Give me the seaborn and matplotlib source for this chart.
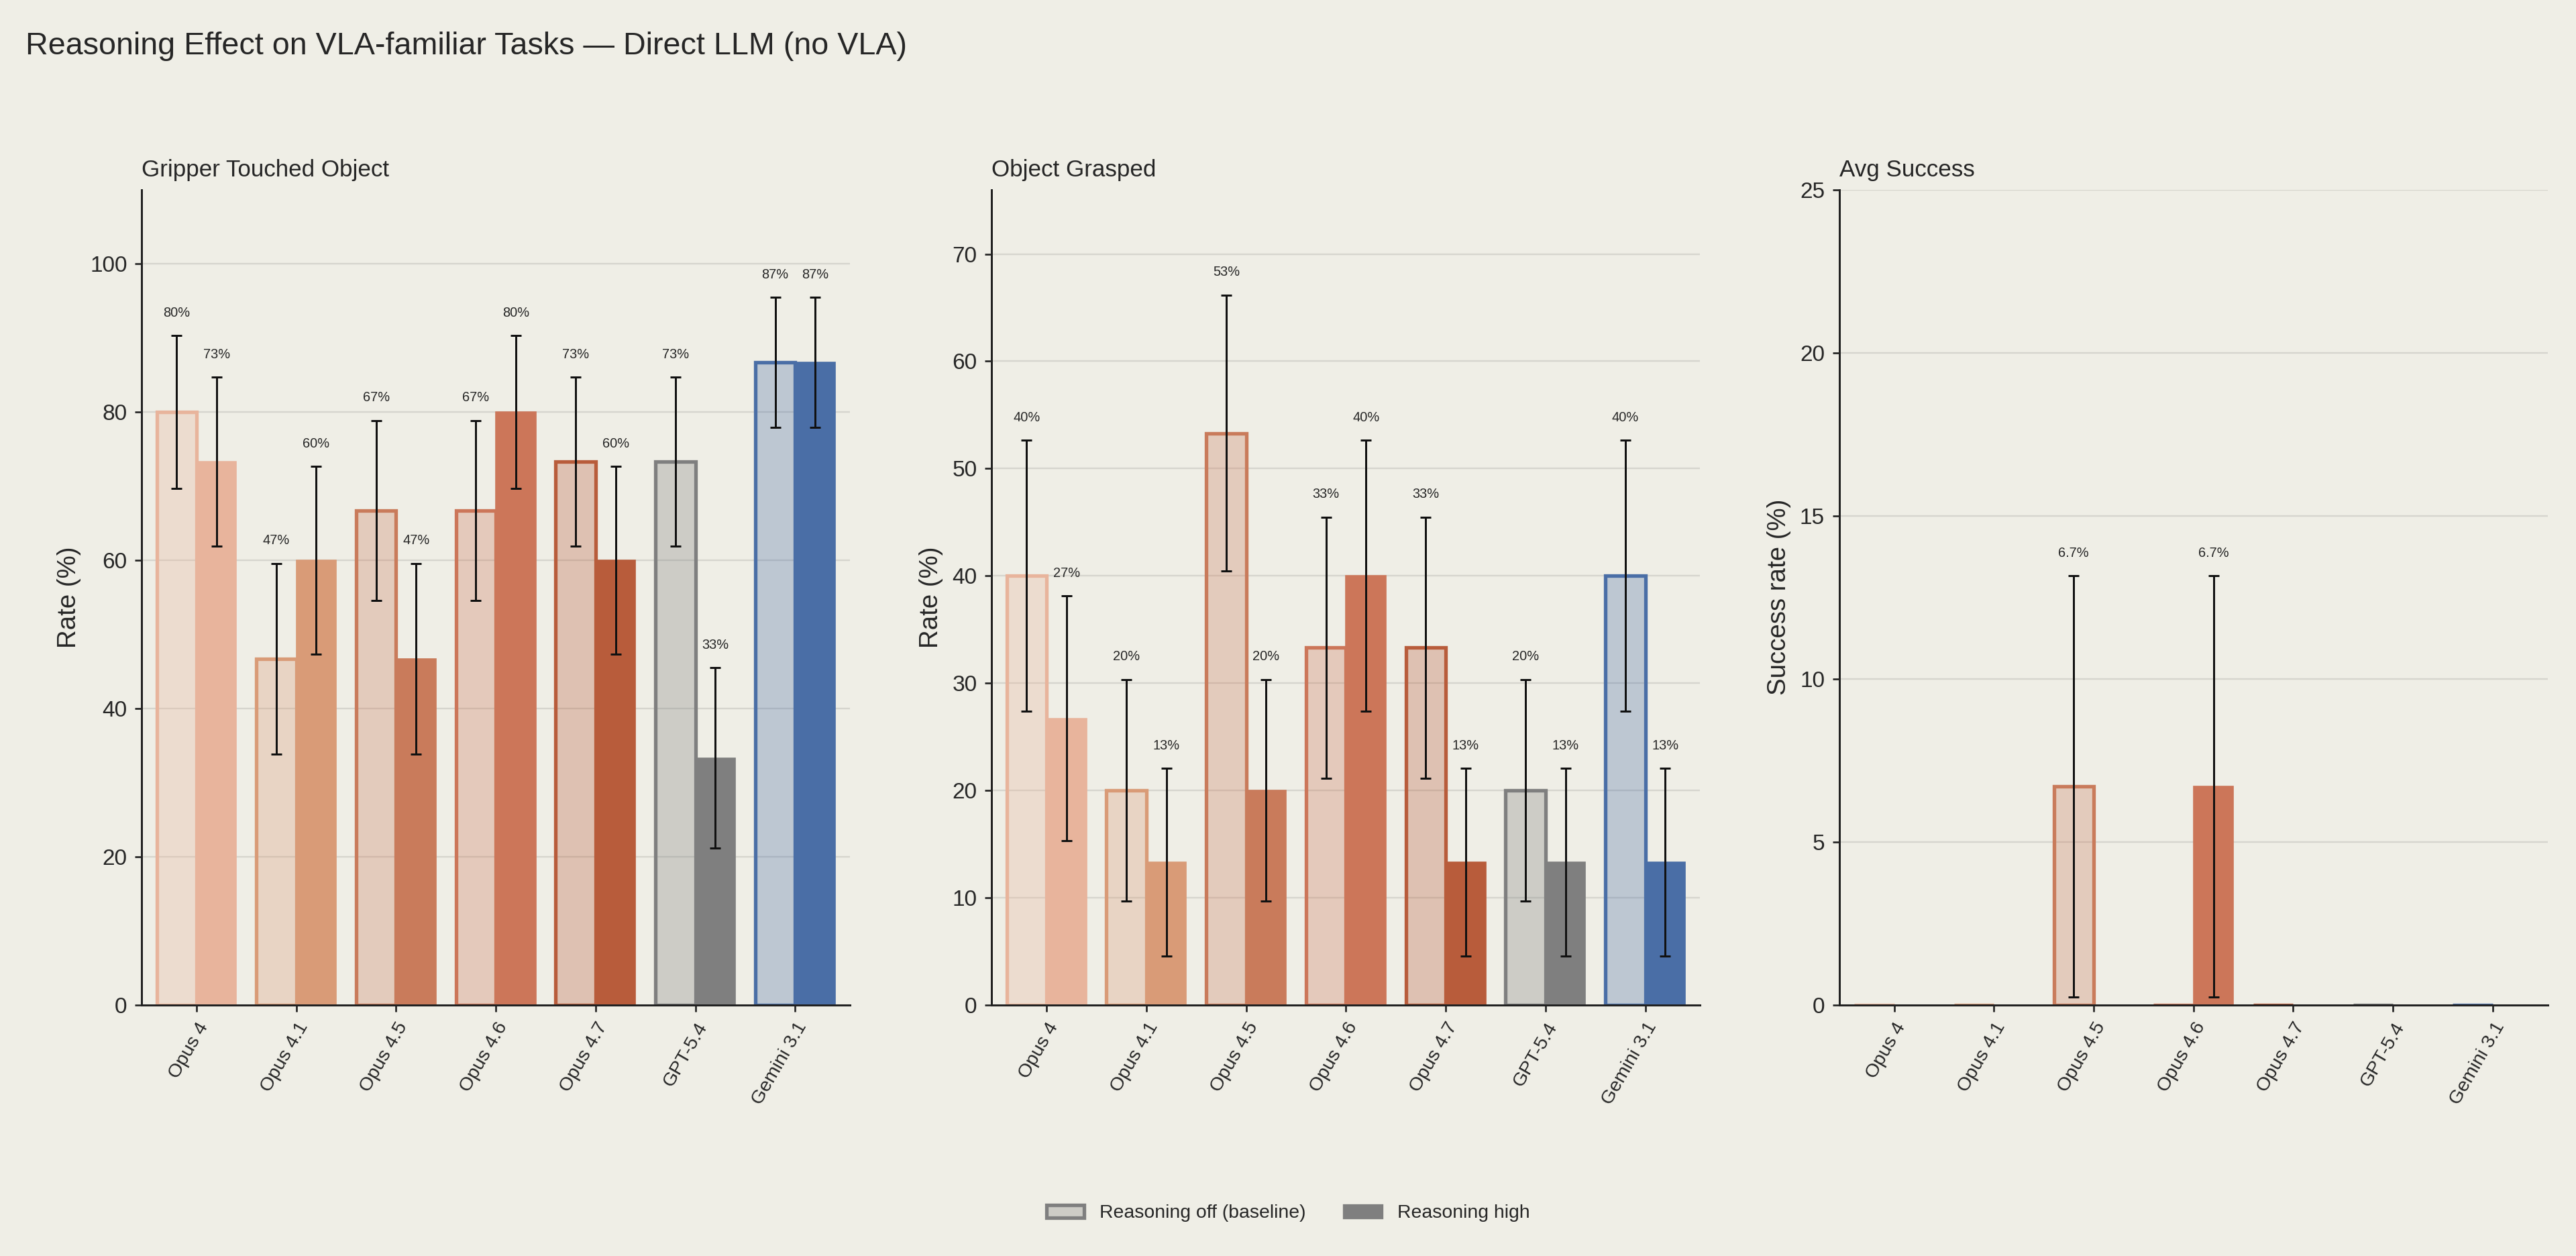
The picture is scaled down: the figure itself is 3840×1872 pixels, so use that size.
import matplotlib
matplotlib.use("Agg")
import matplotlib.pyplot as plt
import numpy as np
import pandas as pd
import seaborn as sns
from matplotlib.patches import Patch

models = ["Opus 4", "Opus 4.1", "Opus 4.5", "Opus 4.6", "Opus 4.7", "GPT-5.4", "Gemini 3.1"]
colors = ["#E8B49C", "#D99B77", "#C97B5B", "#CC7659", "#B85C3B", "#7F7F7F", "#4A6EA6"]
n_trials = 15

touched_off = [80.0, 46.7, 66.7, 66.7, 73.3, 73.3, 86.7]
touched_high = [73.3, 60.0, 46.7, 80.0, 60.0, 33.3, 86.7]
grasped_off = [40.0, 20.0, 53.3, 33.3, 33.3, 20.0, 40.0]
grasped_high = [26.7, 13.3, 20.0, 40.0, 13.3, 13.3, 13.3]
success_off = [0, 0, 6.7, 0, 0, 0, 0]
success_high = [0, 0, 0, 6.7, 0, 0, 0]

bg = "#EFEEE6"
sns.set_theme(style="white")
plt.rcParams["font.family"] = ["Liberation Sans", "DejaVu Sans"]
plt.rcParams["figure.facecolor"] = bg
plt.rcParams["axes.facecolor"] = bg

fig = plt.figure(figsize=(16, 7.8), dpi=240)
fig.suptitle("Reasoning Effect on VLA-familiar Tasks \u2014 Direct LLM (no VLA)", x=0.01, y=0.975,
             ha="left", fontsize=14)

panels = [
    ("Gripper Touched Object", touched_off, touched_high, "Rate (%)", (0, 110), np.arange(0, 101, 20), True),
    ("Object Grasped", grasped_off, grasped_high, "Rate (%)", (0, 76), np.arange(0, 71, 10), True),
    ("Avg Success", success_off, success_high, "Success rate (%)", (0, 25), np.arange(0, 26, 5), False),
]
lefts = [0.055, 0.385, 0.714]

for left, (title, off, high, ylabel, ylim, ticks, fmt_int) in zip(lefts, panels):
    ax = fig.add_axes([left, 0.2, 0.275, 0.649])
    df = pd.DataFrame({
        "model": models * 2,
        "mode": ["off"] * 7 + ["high"] * 7,
        "rate": off + high,
    })
    sns.barplot(data=df, x="model", y="rate", hue="mode", order=models, hue_order=["off", "high"],
                width=0.8, ax=ax, legend=False, errorbar=None, zorder=2)
    for bar in ax.patches:
        xc = bar.get_x() + bar.get_width() / 2
        i = int(round(xc))
        hi = xc > i
        vals = high if hi else off
        c = colors[i]
        if not hi:
            bar.set_facecolor(matplotlib.colors.to_rgba(c, 0.3))
            bar.set_edgecolor(c)
            bar.set_linewidth(1.6)
        else:
            bar.set_facecolor(c)
            bar.set_edgecolor(c)
            bar.set_linewidth(0.5)
        p = vals[i] / 100
        if p <= 0:
            continue
        se = np.sqrt(p * (1 - p) / n_trials) * 100
        ax.errorbar(xc, vals[i], yerr=se, fmt="none", ecolor="#111111", elinewidth=0.9,
                    capsize=2.5, capthick=0.9, zorder=3)
        lab = f"{vals[i]:.0f}%" if fmt_int else f"{vals[i]:.1f}%"
        ax.text(xc, vals[i] + se + ylim[1] * 0.02, lab, ha="center", va="bottom", fontsize=6)
    ax.set_ylim(*ylim)
    ax.set_yticks(ticks)
    ax.set_xlim(-0.55, 6.55)
    ax.yaxis.grid(True, color="#D6D5CE", linewidth=0.7, zorder=0)
    ax.set_axisbelow(True)
    sns.despine(ax=ax)
    for s in ["left", "bottom"]:
        ax.spines[s].set_color("#222222")
        ax.spines[s].set_linewidth(0.9)
    ax.tick_params(axis="both", which="both", bottom=True, left=True, length=3, width=0.8,
                   color="#222222", labelsize=10)
    ax.set_xticks(range(len(models)))
    ax.set_xticklabels(models, rotation=60, ha="right", rotation_mode="anchor", fontsize=8.5)
    ax.set_xlabel("")
    ax.set_ylabel(ylabel, fontsize=11.5)
    ax.set_title(title, loc="left", fontsize=10.5)

handles = [Patch(facecolor=matplotlib.colors.to_rgba("#7F7F7F", 0.3), edgecolor="#7F7F7F", linewidth=1.6,
                 label="Reasoning off (baseline)"),
           Patch(facecolor="#7F7F7F", edgecolor="#7F7F7F", label="Reasoning high")]
fig.legend(handles=handles, loc="center", bbox_to_anchor=(0.5, 0.034), ncol=2, frameon=False,
           fontsize=8.5, columnspacing=2.0)

fig.savefig("out.png", dpi=240, facecolor=bg)
